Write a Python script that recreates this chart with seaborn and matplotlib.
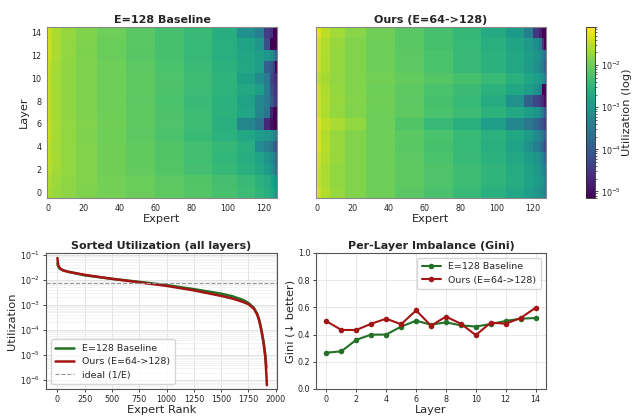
import numpy as np
import matplotlib
matplotlib.use("Agg")
import matplotlib.pyplot as plt
from matplotlib.colors import LogNorm
import seaborn as sns

sns.set_style("white")
plt.rcParams["font.family"] = ["DejaVu Sans"]

LAYERS = list(range(15))
N_EXPERTS = 128

# experts are sorted by load inside each layer; neighbouring experts with the
# same load level are grouped, these are the group widths (sum = 128)
GROUP_WIDTHS = [1, 2, 5, 8, 12, 16, 16, 16, 16, 14, 10, 5, 3, 2, 1, 1]

# log10 utilization per layer (layer 0 first) and expert group
BASELINE_LOG = [
    [-1.60, -1.65, -1.72, -1.80, -1.88, -1.95, -2.02, -2.10, -2.18, -2.27, -2.38, -2.50, -2.60, -2.70, -2.85, -3.05],
    [-1.55, -1.62, -1.70, -1.78, -1.87, -1.95, -2.03, -2.12, -2.20, -2.30, -2.42, -2.55, -2.65, -2.80, -2.95, -3.20],
    [-1.45, -1.55, -1.66, -1.76, -1.86, -1.97, -2.07, -2.18, -2.30, -2.43, -2.58, -2.72, -2.90, -3.10, -3.30, -3.60],
    [-1.42, -1.53, -1.65, -1.76, -1.86, -1.97, -2.08, -2.20, -2.33, -2.47, -2.62, -2.80, -3.00, -3.20, -3.40, -3.70],
    [-1.42, -1.55, -1.66, -1.76, -1.86, -1.97, -2.08, -2.20, -2.33, -2.46, -2.60, -3.20, -3.40, -3.60, -3.90, -4.10],
    [-1.35, -1.50, -1.64, -1.76, -1.88, -2.00, -2.12, -2.25, -2.40, -2.56, -2.72, -2.88, -3.00, -3.15, -3.30, -3.50],
    [-1.35, -1.50, -1.63, -1.75, -1.86, -1.98, -2.10, -2.22, -2.38, -2.60, -3.30, -3.60, -4.70, -5.00, -5.30, -5.60],
    [-1.38, -1.52, -1.65, -1.77, -1.88, -2.00, -2.11, -2.23, -2.38, -2.55, -2.75, -3.30, -3.60, -4.80, -5.20, -5.50],
    [-1.38, -1.52, -1.65, -1.77, -1.88, -2.00, -2.12, -2.25, -2.40, -2.57, -2.80, -3.30, -3.50, -4.00, -4.30, -4.50],
    [-1.38, -1.52, -1.65, -1.77, -1.88, -2.00, -2.11, -2.23, -2.38, -2.53, -2.70, -2.90, -3.40, -4.20, -4.40, -4.60],
    [-1.40, -1.53, -1.66, -1.77, -1.88, -1.99, -2.10, -2.22, -2.37, -2.52, -2.85, -3.20, -3.50, -4.30, -4.50, -4.70],
    [-1.38, -1.52, -1.65, -1.77, -1.88, -2.00, -2.12, -2.24, -2.39, -2.55, -2.72, -2.90, -3.90, -4.10, -4.40, -5.20],
    [-1.32, -1.46, -1.62, -1.76, -1.89, -2.02, -2.15, -2.28, -2.43, -2.60, -2.75, -2.90, -3.00, -3.15, -3.40, -3.80],
    [-1.32, -1.46, -1.62, -1.75, -1.88, -2.01, -2.14, -2.28, -2.43, -2.60, -2.80, -3.00, -4.20, -5.30, -5.60, -5.90],
    [-1.32, -1.45, -1.60, -1.74, -1.87, -2.00, -2.13, -2.27, -2.42, -2.62, -3.10, -3.40, -4.40, -4.60, -5.40, -5.70],
]

OURS_LOG = [
    [-1.20, -1.40, -1.58, -1.72, -1.86, -2.00, -2.13, -2.26, -2.42, -2.58, -2.74, -2.88, -3.00, -3.10, -3.20, -3.40],
    [-1.30, -1.47, -1.62, -1.75, -1.87, -1.99, -2.10, -2.22, -2.35, -2.50, -2.65, -2.80, -2.90, -3.00, -3.10, -3.30],
    [-1.28, -1.46, -1.62, -1.75, -1.87, -1.99, -2.10, -2.22, -2.35, -2.50, -2.66, -2.82, -2.95, -3.10, -3.30, -3.50],
    [-1.20, -1.40, -1.58, -1.73, -1.86, -1.99, -2.12, -2.25, -2.40, -2.56, -2.72, -2.90, -3.05, -3.20, -3.40, -3.70],
    [-1.15, -1.35, -1.55, -1.72, -1.86, -2.00, -2.14, -2.28, -2.44, -2.60, -2.80, -3.10, -3.40, -3.60, -3.90, -4.20],
    [-1.18, -1.38, -1.57, -1.73, -1.86, -1.99, -2.12, -2.25, -2.40, -2.56, -2.72, -2.95, -3.20, -3.40, -3.60, -3.90],
    [-1.12, -1.32, -1.50, -1.62, -1.75, -2.00, -2.20, -2.40, -2.60, -2.90, -3.30, -3.55, -3.80, -4.00, -4.20, -4.40],
    [-1.25, -1.42, -1.60, -1.74, -1.87, -1.99, -2.11, -2.24, -2.38, -2.53, -2.70, -2.88, -3.05, -3.30, -3.60, -4.00],
    [-1.22, -1.40, -1.58, -1.72, -1.85, -1.98, -2.12, -2.27, -2.43, -2.65, -3.10, -3.90, -4.30, -4.50, -4.70, -5.00],
    [-1.25, -1.42, -1.60, -1.74, -1.87, -1.99, -2.11, -2.24, -2.38, -2.54, -2.72, -2.90, -3.10, -3.40, -5.50, -6.20],
    [-1.38, -1.52, -1.65, -1.76, -1.86, -1.96, -2.06, -2.16, -2.28, -2.42, -2.58, -2.75, -2.88, -3.00, -3.15, -3.40],
    [-1.25, -1.42, -1.60, -1.74, -1.87, -2.00, -2.12, -2.25, -2.40, -2.56, -2.74, -2.92, -3.10, -3.30, -3.50, -3.90],
    [-1.25, -1.42, -1.60, -1.74, -1.87, -1.99, -2.12, -2.25, -2.40, -2.56, -2.72, -2.90, -3.05, -3.20, -3.40, -3.70],
    [-1.22, -1.40, -1.58, -1.72, -1.86, -2.00, -2.13, -2.27, -2.43, -2.60, -2.78, -2.98, -3.20, -3.50, -4.50, -5.60],
    [-1.12, -1.30, -1.50, -1.66, -1.82, -1.98, -2.13, -2.28, -2.45, -2.66, -2.95, -3.40, -4.50, -4.80, -5.20, -5.90],
]

# utilization of all 15 x 128 experts sorted high -> low (rank, log10 value)
SORTED_RANK_BASE = [0, 5, 20, 50, 100, 250, 500, 750, 1000, 1250, 1500, 1600, 1700,
                    1750, 1800, 1830, 1850, 1870, 1890, 1905, 1915]
SORTED_LOG_BASE = [-1.36, -1.45, -1.55, -1.62, -1.68, -1.82, -1.96, -2.08, -2.21, -2.37,
                   -2.55, -2.65, -2.80, -2.92, -3.12, -3.35, -3.60, -4.00, -4.50, -5.00, -5.50]
SORTED_RANK_OURS = [0, 3, 10, 25, 50, 100, 250, 500, 750, 1000, 1250, 1500, 1600, 1700,
                    1750, 1800, 1830, 1850, 1870, 1890, 1905, 1915, 1919]
SORTED_LOG_OURS = [-1.13, -1.30, -1.45, -1.55, -1.62, -1.68, -1.80, -1.96, -2.10, -2.24,
                   -2.42, -2.64, -2.74, -2.88, -2.97, -3.15, -3.38, -3.65, -4.05, -4.55,
                   -5.10, -5.80, -6.20]

# Gini coefficient of the expert load, per layer
GINI_BASELINE = [0.267, 0.277, 0.362, 0.400, 0.400, 0.459, 0.502, 0.473, 0.490, 0.468, 0.459, 0.478, 0.500, 0.517, 0.522]
GINI_OURS = [0.498, 0.434, 0.434, 0.480, 0.517, 0.476, 0.578, 0.466, 0.532, 0.480, 0.396, 0.488, 0.480, 0.522, 0.597]

LABEL_BASE = "E=128 Baseline"
LABEL_OURS = "Ours (E=64->128)"
GREEN = "#237026"
RED = "#a31515"


def expand(log_rows):
    return np.array([10.0 ** np.repeat(r, GROUP_WIDTHS) for r in log_rows])


util_base = expand(BASELINE_LOG)
util_ours = expand(OURS_LOG)

W, H = 634, 420
fig = plt.figure(figsize=(W / 100, H / 100), dpi=100)


def px_axes(x0, y0, x1, y1):
    return fig.add_axes([x0 / W, 1 - y1 / H, (x1 - x0) / W, (y1 - y0) / H])


TICK = 5.8
LAB = 8.2
TTL = 8.0
SPINE = "#555555"

norm = LogNorm(vmin=7e-6, vmax=0.08)
ax1 = px_axes(47, 27, 277, 198)
ax2 = px_axes(316, 27, 546, 198)
for ax, data, title in [(ax1, util_base, LABEL_BASE), (ax2, util_ours, LABEL_OURS)]:
    im = ax.imshow(data, origin="lower", aspect="auto", cmap="viridis", norm=norm,
                   interpolation="nearest")
    ax.set_title(title, fontsize=TTL, fontweight="bold", pad=3)
    ax.set_xticks(range(0, 121, 20))
    ax.set_yticks(range(0, 15, 2))
    ax.tick_params(labelsize=TICK, length=2.5, width=0.6, pad=1.5)
    for s in ax.spines.values():
        s.set_color("#888888")
        s.set_linewidth(0.8)
    ax.set_xlabel("Expert", fontsize=LAB, labelpad=1)
ax1.set_ylabel("Layer", fontsize=LAB, labelpad=2)
ax2.set_yticklabels([])

cax = px_axes(586, 27, 595, 198)
cb = fig.colorbar(im, cax=cax)
cb.set_label("Utilization (log)", fontsize=LAB, labelpad=1)
cb.ax.tick_params(labelsize=TICK, length=2.5, width=0.6, pad=1.5)
cb.ax.tick_params(which="minor", length=1.5, width=0.5)
cb.outline.set_linewidth(0.6)

# sorted utilization over all layers
ax3 = px_axes(46, 253, 277, 389)
sns.lineplot(x=SORTED_RANK_BASE, y=10.0 ** np.array(SORTED_LOG_BASE), ax=ax3,
             color=GREEN, lw=1.8, label=LABEL_BASE)
sns.lineplot(x=SORTED_RANK_OURS, y=10.0 ** np.array(SORTED_LOG_OURS), ax=ax3,
             color=RED, lw=1.8, label=LABEL_OURS)
ax3.axhline(1.0 / N_EXPERTS, color="#999999", ls="--", lw=0.8, label="ideal (1/E)")
ax3.set_yscale("log")
ax3.set_xlim(-105, 2012)
ax3.set_ylim(10 ** -6.35, 10 ** -0.93)
ax3.set_xticks(range(0, 2001, 250))
ax3.grid(True, which="major", color="#dddddd", lw=0.6)
ax3.grid(True, which="minor", color="#eeeeee", lw=0.5)
ax3.set_title("Sorted Utilization (all layers)", fontsize=TTL, fontweight="bold", pad=3)
ax3.set_xlabel("Expert Rank", fontsize=LAB, labelpad=1)
ax3.set_ylabel("Utilization", fontsize=LAB, labelpad=2)
ax3.legend(loc="lower left", fontsize=6.8, frameon=True, handlelength=2.0,
           borderpad=0.5, labelspacing=0.45)

# per-layer Gini
ax4 = px_axes(316, 253, 546, 389)
sns.lineplot(x=LAYERS, y=GINI_BASELINE, ax=ax4, color=GREEN, lw=1.5, marker="o",
             markersize=4, markeredgewidth=0, label=LABEL_BASE)
sns.lineplot(x=LAYERS, y=GINI_OURS, ax=ax4, color=RED, lw=1.5, marker="o",
             markersize=4, markeredgewidth=0, label=LABEL_OURS)
ax4.set_ylim(0, 1)
ax4.set_xlim(-0.7, 14.7)
ax4.set_xticks(range(0, 15, 2))
ax4.set_yticks(np.arange(0, 1.01, 0.2))
ax4.grid(True, color="#e4e4e4", lw=0.6)
ax4.set_title("Per-Layer Imbalance (Gini)", fontsize=TTL, fontweight="bold", pad=3)
ax4.set_xlabel("Layer", fontsize=LAB, labelpad=1)
ax4.set_ylabel("Gini (\u2193 better)", fontsize=LAB, labelpad=2)
ax4.legend(loc="upper right", fontsize=6.8, frameon=True, handlelength=2.0,
           borderpad=0.5, labelspacing=0.45)

for ax in (ax3, ax4):
    ax.tick_params(labelsize=TICK, length=2.5, width=0.6, pad=1.5, left=True, bottom=True)
    for s in ax.spines.values():
        s.set_color(SPINE)
        s.set_linewidth(0.8)

fig.savefig("out.png", dpi=100)
